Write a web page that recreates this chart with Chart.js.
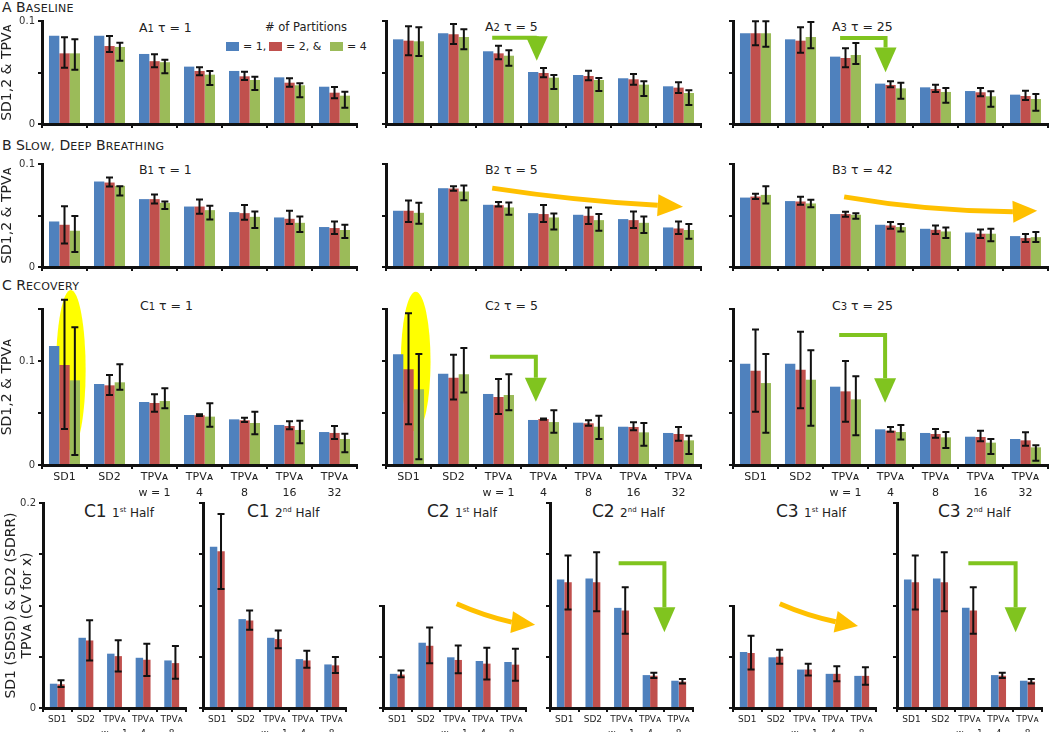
<!DOCTYPE html>
<html lang="en">
<head>
<meta charset="UTF-8">
<title>SD1, SD2 and TPVA by partitions</title>
<script src="https://cdn.jsdelivr.net/npm/chart.js"></script>
<style>
  html, body { margin: 0; background: #fff; font-family: 'DejaVu Sans', sans-serif; overflow: hidden; }
  #fig { position: relative; width: 1050px; height: 732px; }
  #fig canvas { position: absolute; }
  .txt { position: absolute; white-space: nowrap; color: #222; line-height: 1; }
  .ptitle { font-size: 12.5px; }
  .ptitle small { font-size: 10px; }
  .htitle .n { font-size: 17px; }
  .htitle .h { font-size: 12px; }
  .htitle sup { font-size: 7px; }
  .sw { position: absolute; width: 13px; height: 9px; }
</style>
</head>
<body>
<div id="fig"></div>

<script>
  // ---- data ----
  const cats7 = ['SD1', 'SD2', ['TPVᴀ', 'w = 1'], ['TPVᴀ', '4'], ['TPVᴀ', '8'], ['TPVᴀ', '16'], ['TPVᴀ', '32']];
  const cats5 = ['SD1', 'SD2', ['TPVᴀ', 'w = 1'], ['TPVᴀ', '4'], ['TPVᴀ', '8']];
  const partitions = ['= 1', '= 2', '= 4'];
  const rowTickLabels = [0, 0.1];
  const halfTickLabels = [0, 0.2];

  // A  Baseline
  const a1Blue = [0.0857, 0.0857, 0.068, 0.0557, 0.0515, 0.0453, 0.0362];
  const a1Red = [0.0686, 0.0757, 0.061, 0.0515, 0.0463, 0.0401, 0.0304];
  const a1RedErr = [[0.0547, 0.0842], [0.0699, 0.0854], [0.055, 0.0677], [0.0473, 0.055], [0.0427, 0.0508], [0.0362, 0.0444], [0.0249, 0.0359]];
  const a1Green = [0.0686, 0.0748, 0.060, 0.0479, 0.0427, 0.0376, 0.0275];
  const a1GreenErr = [[0.0527, 0.0822], [0.0615, 0.079], [0.0492, 0.0624], [0.0379, 0.0515], [0.033, 0.0459], [0.0259, 0.0395], [0.0158, 0.0314]];

  const a2Blue = [0.0822, 0.088, 0.0706, 0.0505, 0.0476, 0.0444, 0.0366];
  const a2Red = [0.0809, 0.0871, 0.0686, 0.0495, 0.0466, 0.0434, 0.0353];
  const a2RedErr = [[0.0667, 0.0949], [0.0777, 0.097], [0.0628, 0.076], [0.0453, 0.0544], [0.0424, 0.0518], [0.0382, 0.0485], [0.0301, 0.0405]];
  const a2Green = [0.0803, 0.0845, 0.0663, 0.045, 0.0427, 0.0382, 0.0301];
  const a2GreenErr = [[0.066, 0.0939], [0.0725, 0.092], [0.0566, 0.0715], [0.034, 0.0476], [0.032, 0.0447], [0.0272, 0.0414], [0.0184, 0.0327]];

  const a3Blue = [0.088, 0.0822, 0.0654, 0.0392, 0.0356, 0.032, 0.0285];
  const a3Red = [0.088, 0.0809, 0.0641, 0.0379, 0.034, 0.0308, 0.0272];
  const a3RedErr = [[0.0764, 0.0997], [0.0692, 0.0939], [0.055, 0.0735], [0.0356, 0.0414], [0.0311, 0.0382], [0.0269, 0.035], [0.0233, 0.0324]];
  const a3Green = [0.088, 0.0845, 0.067, 0.0346, 0.0311, 0.0269, 0.0243];
  const a3GreenErr = [[0.075, 0.0997], [0.0735, 0.099], [0.0583, 0.0786], [0.0246, 0.0401], [0.0207, 0.035], [0.0168, 0.0317], [0.0129, 0.0291]];

  // B  Slow, deep breathing
  const b1Blue = [0.0442, 0.083, 0.0659, 0.0587, 0.0533, 0.0481, 0.0388];
  const b1Red = [0.041, 0.082, 0.0659, 0.0587, 0.0523, 0.0468, 0.0378];
  const b1RedErr = [[0.0229, 0.0591], [0.0781, 0.0868], [0.0617, 0.0703], [0.0517, 0.0655], [0.0458, 0.0601], [0.0417, 0.0546], [0.032, 0.0442]];
  const b1Green = [0.0352, 0.0788, 0.0623, 0.0552, 0.0487, 0.0429, 0.0359];
  const b1GreenErr = [[0.0145, 0.0494], [0.0694, 0.0785], [0.0562, 0.0636], [0.0461, 0.0594], [0.0378, 0.0539], [0.0339, 0.049], [0.0281, 0.041]];

  const b2Blue = [0.0546, 0.0765, 0.0604, 0.0523, 0.0507, 0.0465, 0.0384];
  const b2Red = [0.0546, 0.0762, 0.06, 0.0514, 0.0497, 0.0455, 0.0374];
  const b2RedErr = [[0.0436, 0.0646], [0.074, 0.0785], [0.0588, 0.063], [0.0436, 0.0601], [0.0417, 0.0578], [0.0378, 0.0539], [0.032, 0.0442]];
  const b2Green = [0.0526, 0.0733, 0.0578, 0.0481, 0.0455, 0.0429, 0.0359];
  const b2GreenErr = [[0.042, 0.0623], [0.0649, 0.0791], [0.0507, 0.0626], [0.0365, 0.0519], [0.0352, 0.0514], [0.033, 0.049], [0.0274, 0.0417]];

  const b3Blue = [0.0674, 0.064, 0.0514, 0.041, 0.0371, 0.0335, 0.03];
  const b3Red = [0.0684, 0.0636, 0.0514, 0.0403, 0.0361, 0.0323, 0.0281];
  const b3RedErr = [[0.0659, 0.071], [0.0604, 0.0681], [0.0487, 0.0536], [0.0371, 0.0436], [0.032, 0.0403], [0.0281, 0.0365], [0.0242, 0.032]];
  const b3Green = [0.07, 0.0617, 0.0507, 0.0388, 0.0345, 0.0323, 0.029];
  const b3GreenErr = [[0.0617, 0.0785], [0.0581, 0.0652], [0.0468, 0.0523], [0.0345, 0.0417], [0.0281, 0.0384], [0.0249, 0.0371], [0.0242, 0.0339]];

  // C  Recovery
  const c1Blue = [0.1144, 0.0779, 0.0606, 0.0481, 0.0439, 0.0385, 0.0317];
  const c1Red = [0.0962, 0.0766, 0.0596, 0.0478, 0.043, 0.0375, 0.0308];
  const c1RedErr = [[0.0346, 0.159], [0.0673, 0.0865], [0.0513, 0.068], [0.047, 0.0487], [0.0413, 0.0455], [0.0343, 0.042], [0.025, 0.0375]];
  const c1Green = [0.0814, 0.0795, 0.0615, 0.0465, 0.0404, 0.0337, 0.025];
  const c1GreenErr = [[0.0096, 0.1324], [0.0724, 0.0968], [0.0545, 0.0737], [0.0368, 0.0593], [0.0295, 0.0513], [0.0208, 0.0426], [0.0122, 0.0301]];

  const c2Blue = [0.1064, 0.0878, 0.0683, 0.0433, 0.0407, 0.0368, 0.0308];
  const c2Red = [0.092, 0.084, 0.0654, 0.0442, 0.0401, 0.0365, 0.0298];
  const c2RedErr = [[0.0391, 0.1459], [0.0631, 0.106], [0.049, 0.0827], [0.0436, 0.0446], [0.0378, 0.043], [0.0333, 0.041], [0.0234, 0.0365]];
  const c2Green = [0.0728, 0.0872, 0.0673, 0.0413, 0.0368, 0.0314, 0.0237];
  const c2GreenErr = [[0.0055, 0.1067], [0.0696, 0.1125], [0.0526, 0.0872], [0.0311, 0.0526], [0.025, 0.0474], [0.0186, 0.0404], [0.0106, 0.0282]];

  const c3Blue = [0.0974, 0.0974, 0.0753, 0.0343, 0.0308, 0.0272, 0.025];
  const c3Red = [0.0907, 0.0917, 0.0708, 0.033, 0.0298, 0.0269, 0.0237];
  const c3RedErr = [[0.0513, 0.1304], [0.0545, 0.1282], [0.0417, 0.1], [0.032, 0.0365], [0.0263, 0.0346], [0.0228, 0.033], [0.0186, 0.0314]];
  const c3Green = [0.0788, 0.082, 0.0631, 0.0317, 0.0266, 0.0215, 0.017];
  const c3GreenErr = [[0.0311, 0.1067], [0.0378, 0.1103], [0.0285, 0.0853], [0.0244, 0.0385], [0.0163, 0.0317], [0.0106, 0.025], [0.0042, 0.0189]];

  // C halves (1st / 2nd half of recovery)
  const c1h1Blue = [0.0237, 0.0685, 0.053, 0.049, 0.0464];
  const c1h1Red = [0.0231, 0.0659, 0.0506, 0.0471, 0.0438];
  const c1h1RedErr = [[0.0205, 0.027], [0.0464, 0.0857], [0.0357, 0.0662], [0.0312, 0.0627], [0.0286, 0.0604]];
  const c1h2Blue = [0.1572, 0.0867, 0.0685, 0.0477, 0.0425];
  const c1h2Red = [0.1529, 0.0854, 0.0672, 0.0464, 0.0416];
  const c1h2RedErr = [[0.1162, 0.1893], [0.0763, 0.0951], [0.0584, 0.0757], [0.0393, 0.0559], [0.0341, 0.0497]];
  const c2h1Blue = [0.0335, 0.064, 0.0497, 0.0461, 0.0451];
  const c2h1Red = [0.0328, 0.061, 0.0471, 0.0435, 0.0425];
  const c2h1RedErr = [[0.0302, 0.0367], [0.0438, 0.0789], [0.0341, 0.0613], [0.0279, 0.0591], [0.0266, 0.0581]];
  const c2h2Blue = [0.1253, 0.1263, 0.0977, 0.0321, 0.0266];
  const c2h2Red = [0.1227, 0.1227, 0.0951, 0.0315, 0.0257];
  const c2h2RedErr = [[0.0961, 0.1487], [0.0945, 0.1519], [0.0724, 0.1178], [0.0292, 0.0344], [0.024, 0.0282]];
  const c3h1Blue = [0.0549, 0.0497, 0.0377, 0.0335, 0.0315];
  const c3h1Red = [0.0539, 0.0503, 0.0377, 0.0335, 0.0315];
  const c3h1RedErr = [[0.0377, 0.0708], [0.0435, 0.0571], [0.0318, 0.0435], [0.0263, 0.0409], [0.0228, 0.0399]];
  const c3h2Blue = [0.1253, 0.1263, 0.0977, 0.0321, 0.0266];
  const c3h2Red = [0.1227, 0.1227, 0.0951, 0.0315, 0.0257];
  const c3h2RedErr = [[0.0961, 0.1487], [0.0945, 0.1519], [0.0724, 0.1178], [0.0292, 0.0344], [0.024, 0.0282]];

  // ---- styling ----
  const FONT = "'DejaVu Sans', sans-serif";
  const INK = '#111';
  const BLUE = '#4F81BD', RED = '#C0504D', GREEN = '#9BBB59';
  const ARROW_GREEN = '#80C41F', ARROW_ORANGE = '#FFC000', HILITE = '#FFFF00';
  const fig = document.getElementById('fig');

  // ---- text first (canvases go on top of it): headings, panel titles, legend ----
  function smallCaps(text) {
    return text.split(' ').map(w =>
      `<span style="font-size:14px">${w[0]}</span><span style="font-size:11px;letter-spacing:0.3px">${w.slice(1).toUpperCase()}</span>`
    ).join(' ');
  }
  // place a text block so that its vertical middle sits at `mid`
  function addText(html, left, mid, cls, size) {
    const d = document.createElement('div');
    d.className = 'txt ' + (cls || '');
    d.style.left = left + 'px';
    d.style.top = (mid - size / 2) + 'px';
    d.style.fontSize = size + 'px';
    d.innerHTML = html;
    fig.appendChild(d);
  }

  addText(smallCaps('A Baseline'), 2, 7, '', 14);
  addText(smallCaps('B Slow, Deep Breathing'), 2, 145, '', 14);
  addText(smallCaps('C Recovery'), 2, 285, '', 14);

  const panelTitles = [
    ['A', '1', '1', 139, 28], ['A', '2', '5', 485, 27], ['A', '3', '25', 832, 27],
    ['B', '1', '1', 139, 170], ['B', '2', '5', 485, 170], ['B', '3', '42', 832, 170],
    ['C', '1', '1', 140, 306], ['C', '2', '5', 485, 306], ['C', '3', '25', 832, 306]
  ];
  panelTitles.forEach(([L, n, tau, x, y]) => addText(`${L}<small>${n}</small> τ = ${tau}`, x, y, 'ptitle', 12.5));

  const halfTitles = [['C1', '1', 'st', 84], ['C1', '2', 'nd', 247], ['C2', '1', 'st', 427],
                      ['C2', '2', 'nd', 592], ['C3', '1', 'st', 776], ['C3', '2', 'nd', 938]];
  halfTitles.forEach(([c, n, s, x]) =>
    addText(`<span class="n">${c}</span> <span class="h">${n}<sup>${s}</sup> Half</span>`, x, 511, 'htitle', 17));

  addText('# of Partitions', 265, 28, '', 11.5);
  [[BLUE, 226, partitions[0] + ','], [RED, 269, partitions[1] + ', &'], [GREEN, 330, partitions[2]]].forEach(([col, x, t]) => {
    const s = document.createElement('div');
    s.className = 'sw';
    s.style.left = x + 'px';
    s.style.top = '42px';
    s.style.background = col;
    fig.appendChild(s);
    addText(t, x + 17, 46.5, '', 11);
  });

  // ---- chart helpers ----
  function bars3(blue, red, redErr, green, greenErr) {
    return [
      { label: partitions[0], data: blue, backgroundColor: BLUE },
      { label: partitions[1], data: red, err: redErr, backgroundColor: RED },
      { label: partitions[2], data: green, err: greenErr, backgroundColor: GREEN }
    ];
  }
  function bars2(blue, red, redErr) {
    return [
      { label: partitions[0], data: blue, backgroundColor: BLUE },
      { label: partitions[1], data: red, err: redErr, backgroundColor: RED }
    ];
  }

  function labelFor(v, shown) {
    const r = Math.round(v * 100) / 100;
    return shown.includes(r) ? String(r) : '';
  }
  // tick marks every 0.05 up to the axis maximum
  function tickValues(max) {
    const n = Math.round(max / 0.05);
    return Array.from({ length: n + 1 }, (_, i) => +(i * 0.05).toFixed(2));
  }

  // black error bars with caps, drawn through the y scale
  const errorBars = {
    id: 'errorBars',
    afterDatasetsDraw(chart) {
      const { ctx } = chart;
      const y = chart.scales.y;
      chart.data.datasets.forEach((ds, di) => {
        if (!ds.err) return;
        chart.getDatasetMeta(di).data.forEach((bar, i) => {
          const e = ds.err[i];
          if (!e) return;
          const yl = y.getPixelForValue(e[0]), yh = y.getPixelForValue(e[1]);
          ctx.save();
          ctx.strokeStyle = INK;
          ctx.lineWidth = 2;
          ctx.beginPath();
          ctx.moveTo(bar.x, yh); ctx.lineTo(bar.x, yl);
          ctx.moveTo(bar.x - 3.5, yh); ctx.lineTo(bar.x + 3.5, yh);
          ctx.moveTo(bar.x - 3.5, yl); ctx.lineTo(bar.x + 3.5, yl);
          ctx.stroke();
          ctx.restore();
        });
      });
    }
  };

  // yellow highlights and green / orange arrows, placed in data space
  function decor(p) {
    return {
      id: 'decor',
      beforeDatasetsDraw(chart) {
        if (!p.ellipses) return;
        const { ctx } = chart;
        const xs = chart.scales.x, ys = chart.scales.y;
        p.ellipses.forEach(e => {
          const cx = xs.getPixelForValue(e.cx), cy = ys.getPixelForValue(e.cy);
          const rx = xs.getPixelForValue(e.cx + e.rx) - cx;
          const ry = cy - ys.getPixelForValue(e.cy + e.ry);
          ctx.save();
          ctx.fillStyle = HILITE;
          ctx.beginPath();
          ctx.ellipse(cx, cy, rx, ry, 0, 0, Math.PI * 2);
          ctx.fill();
          ctx.restore();
        });
      },
      afterDatasetsDraw(chart) {
        if (!p.arrows) return;
        const { ctx } = chart;
        const X = v => chart.scales.x.getPixelForValue(v);
        const Y = v => chart.scales.y.getPixelForValue(v);
        p.arrows.forEach(a => {
          ctx.save();
          ctx.strokeStyle = a.color;
          ctx.fillStyle = a.color;
          if (a.type === 'bent') {
            ctx.lineWidth = 4;
            ctx.beginPath();
            ctx.moveTo(X(a.x0), Y(a.y0));
            ctx.lineTo(X(a.x1), Y(a.y0));
            ctx.lineTo(X(a.x1), Y(a.yHead));
            ctx.stroke();
            ctx.beginPath();
            ctx.moveTo(X(a.x1) - 11, Y(a.yHead));
            ctx.lineTo(X(a.x1) + 11, Y(a.yHead));
            ctx.lineTo(X(a.x1), Y(a.yTip));
            ctx.closePath();
            ctx.fill();
          } else {
            const f = [X(a.from[0]), Y(a.from[1])], c = [X(a.ctrl[0]), Y(a.ctrl[1])];
            const b = [X(a.to[0]), Y(a.to[1])], t = [X(a.tip[0]), Y(a.tip[1])];
            ctx.lineWidth = 5;
            ctx.beginPath();
            ctx.moveTo(f[0], f[1]);
            ctx.quadraticCurveTo(c[0], c[1], b[0], b[1]);
            ctx.stroke();
            const dx = t[0] - b[0], dy = t[1] - b[1], L = Math.hypot(dx, dy);
            const nx = -dy / L * 11, ny = dx / L * 11;
            ctx.beginPath();
            ctx.moveTo(b[0] + nx, b[1] + ny);
            ctx.lineTo(b[0] - nx, b[1] - ny);
            ctx.lineTo(t[0], t[1]);
            ctx.closePath();
            ctx.fill();
          }
          ctx.restore();
        });
      }
    };
  }

  function addPanel(p) {
    const padT = p.padT ?? 14, padR = p.padR ?? 2;
    const cv = document.createElement('canvas');
    cv.width = p.yW + p.plotW + padR;
    cv.height = padT + p.plotH + p.xH;
    cv.style.left = (p.axisX - p.yW) + 'px';
    cv.style.top = (p.plotTop - padT) + 'px';
    fig.appendChild(cv);

    const yTitle = p.yTitle
      ? { display: true, text: p.yTitle, color: '#222', font: { family: FONT, size: p.yTitleSize || 14, lineHeight: p.yTitleLH || 1 }, padding: { top: p.yTitlePad || 0, bottom: 0 } }
      : { display: false };

    const plugins = [errorBars];
    if (p.arrows || p.ellipses) plugins.push(decor(p));

    new Chart(cv, {
      type: 'bar',
      data: { labels: p.cats, datasets: p.datasets },
      options: {
        responsive: false,
        animation: false,
        layout: { padding: { top: padT, right: padR, bottom: 0, left: 0 } },
        datasets: { bar: { categoryPercentage: p.catPct, barPercentage: 1, borderWidth: 0 } },
        plugins: { legend: { display: false }, tooltip: { enabled: false } },
        scales: {
          x: {
            grid: { offset: true, drawOnChartArea: false, color: INK, lineWidth: 2, tickLength: 4 },
            border: { color: INK, width: 3 },
            ticks: p.xFont
              ? { autoSkip: false, maxRotation: 0, minRotation: 0, padding: 0, color: '#222', font: p.xFont }
              : { display: false },
            afterFit: s => { s.height = p.xH; }
          },
          y: {
            min: 0,
            max: p.yMax,
            grid: { drawOnChartArea: false, color: INK, lineWidth: 2, tickLength: 4 },
            border: { color: INK, width: 3 },
            ticks: {
              autoSkip: false, padding: 3, color: '#333',
              font: { family: FONT, size: 10 },
              callback: v => labelFor(v, p.yLabels || [])
            },
            afterBuildTicks: s => { s.ticks = tickValues(p.yMax).map(v => ({ value: v })); },
            title: yTitle,
            afterFit: s => { s.width = p.yW; }
          }
        }
      },
      plugins
    });
  }

  // ---- rows A, B, C ----
  const rowA = { plotTop: 21, plotH: 103, yMax: 0.1, xH: 10, cats: cats7, catPct: 0.69, plotW: 315, padT: 16 };
  const rowB = { plotTop: 164, plotH: 103, yMax: 0.1, xH: 10, cats: cats7, catPct: 0.69, plotW: 315 };
  const rowC = {
    plotTop: 309, plotH: 156, yMax: 0.15, xH: 44, cats: cats7, catPct: 0.69, plotW: 315, padT: 24,
    xFont: { family: FONT, size: 11, lineHeight: 1.45 }
  };
  const yAxisTitle = 'SD1,2 & TPVᴀ';

  addPanel({ ...rowA, axisX: 42, yW: 42, yTitle: yAxisTitle, yLabels: rowTickLabels,
    datasets: bars3(a1Blue, a1Red, a1RedErr, a1Green, a1GreenErr) });
  addPanel({ ...rowA, axisX: 386, yW: 8,
    datasets: bars3(a2Blue, a2Red, a2RedErr, a2Green, a2GreenErr),
    arrows: [{ type: 'bent', color: ARROW_GREEN, x0: 1.86, x1: 2.85, y0: 0.0837, yHead: 0.0852, yTip: 0.0615 }] });
  addPanel({ ...rowA, axisX: 733, yW: 8, padR: 1,
    datasets: bars3(a3Blue, a3Red, a3RedErr, a3Green, a3GreenErr),
    arrows: [{ type: 'bent', color: ARROW_GREEN, x0: 1.88, x1: 2.89, y0: 0.0834, yHead: 0.0743, yTip: 0.0503 }] });

  addPanel({ ...rowB, axisX: 42, yW: 42, yTitle: yAxisTitle, yLabels: rowTickLabels,
    datasets: bars3(b1Blue, b1Red, b1RedErr, b1Green, b1GreenErr) });
  addPanel({ ...rowB, axisX: 386, yW: 8,
    datasets: bars3(b2Blue, b2Red, b2RedErr, b2Green, b2GreenErr),
    arrows: [{ type: 'curve', color: ARROW_ORANGE, from: [1.86, 0.0766], ctrl: [3.72, 0.0642], to: [5.54, 0.0599], tip: [6.1, 0.0584] }] });
  addPanel({ ...rowB, axisX: 733, yW: 8, padR: 1,
    datasets: bars3(b3Blue, b3Red, b3RedErr, b3Green, b3GreenErr),
    arrows: [{ type: 'curve', color: ARROW_ORANGE, from: [1.97, 0.0681], ctrl: [3.83, 0.0541], to: [5.72, 0.0536], tip: [6.26, 0.0546] }] });

  addPanel({ ...rowC, axisX: 42, yW: 42, yTitle: yAxisTitle, yLabels: rowTickLabels,
    datasets: bars3(c1Blue, c1Red, c1RedErr, c1Green, c1GreenErr),
    ellipses: [{ cx: 0.14, cy: 0.0913, rx: 0.33, ry: 0.077 }] });
  addPanel({ ...rowC, axisX: 386, yW: 8,
    datasets: bars3(c2Blue, c2Red, c2RedErr, c2Green, c2GreenErr),
    ellipses: [{ cx: 0.16, cy: 0.0993, rx: 0.33, ry: 0.0673 }],
    arrows: [{ type: 'bent', color: ARROW_GREEN, x0: 1.81, x1: 2.83, y0: 0.1041, yHead: 0.0839, yTip: 0.0609 }] });
  addPanel({ ...rowC, axisX: 733, yW: 8, padR: 1,
    datasets: bars3(c3Blue, c3Red, c3RedErr, c3Green, c3GreenErr),
    arrows: [{ type: 'bent', color: ARROW_GREEN, x0: 1.86, x1: 2.88, y0: 0.125, yHead: 0.0834, yTip: 0.0599 }] });

  // ---- bottom row: halves ----
  const full = { plotTop: 503, plotH: 205, yMax: 0.2, xH: 40, cats: cats5, catPct: 0.52, plotW: 143, padT: 10,
    xFont: { family: FONT, size: 9, lineHeight: 1.6 } };
  const half = { ...full, plotTop: 605.5, plotH: 102.5, yMax: 0.1 };

  addPanel({ ...full, axisX: 43, yW: 43, yLabels: halfTickLabels, padR: 4,
    yTitle: ['SD1 (SDSD) & SD2 (SDRR)', 'TPVᴀ (CV for x)'], yTitleSize: 14, yTitleLH: 1.15, yTitlePad: 3,
    datasets: bars2(c1h1Blue, c1h1Red, c1h1RedErr) });
  addPanel({ ...full, axisX: 203, yW: 8,
    datasets: bars2(c1h2Blue, c1h2Red, c1h2RedErr) });
  addPanel({ ...half, axisX: 383, yW: 8, padR: 16,
    datasets: bars2(c2h1Blue, c2h1Red, c2h1RedErr),
    arrows: [{ type: 'curve', color: ARROW_ORANGE, from: [2.075, 0.1022], ctrl: [3.03, 0.0903], to: [4.0, 0.0842], tip: [4.82, 0.0815] }] });
  addPanel({ ...full, axisX: 550, yW: 8,
    datasets: bars2(c2h2Blue, c2h2Red, c2h2RedErr),
    arrows: [{ type: 'bent', color: ARROW_GREEN, x0: 1.9, x1: 3.5, y0: 0.1412, yHead: 0.0983, yTip: 0.074 }] });
  addPanel({ ...half, axisX: 733, yW: 8,
    datasets: bars2(c3h1Blue, c3h1Red, c3h1RedErr),
    arrows: [{ type: 'curve', color: ARROW_ORANGE, from: [1.135, 0.1022], ctrl: [2.11, 0.0903], to: [3.09, 0.0846], tip: [3.87, 0.0805] }] });
  addPanel({ ...full, axisX: 897, yW: 8, plotW: 145,
    datasets: bars2(c3h2Blue, c3h2Red, c3h2RedErr),
    arrows: [{ type: 'bent', color: ARROW_GREEN, x0: 1.96, x1: 3.59, y0: 0.1412, yHead: 0.0983, yTip: 0.074 }] });
</script>
</body>
</html>
